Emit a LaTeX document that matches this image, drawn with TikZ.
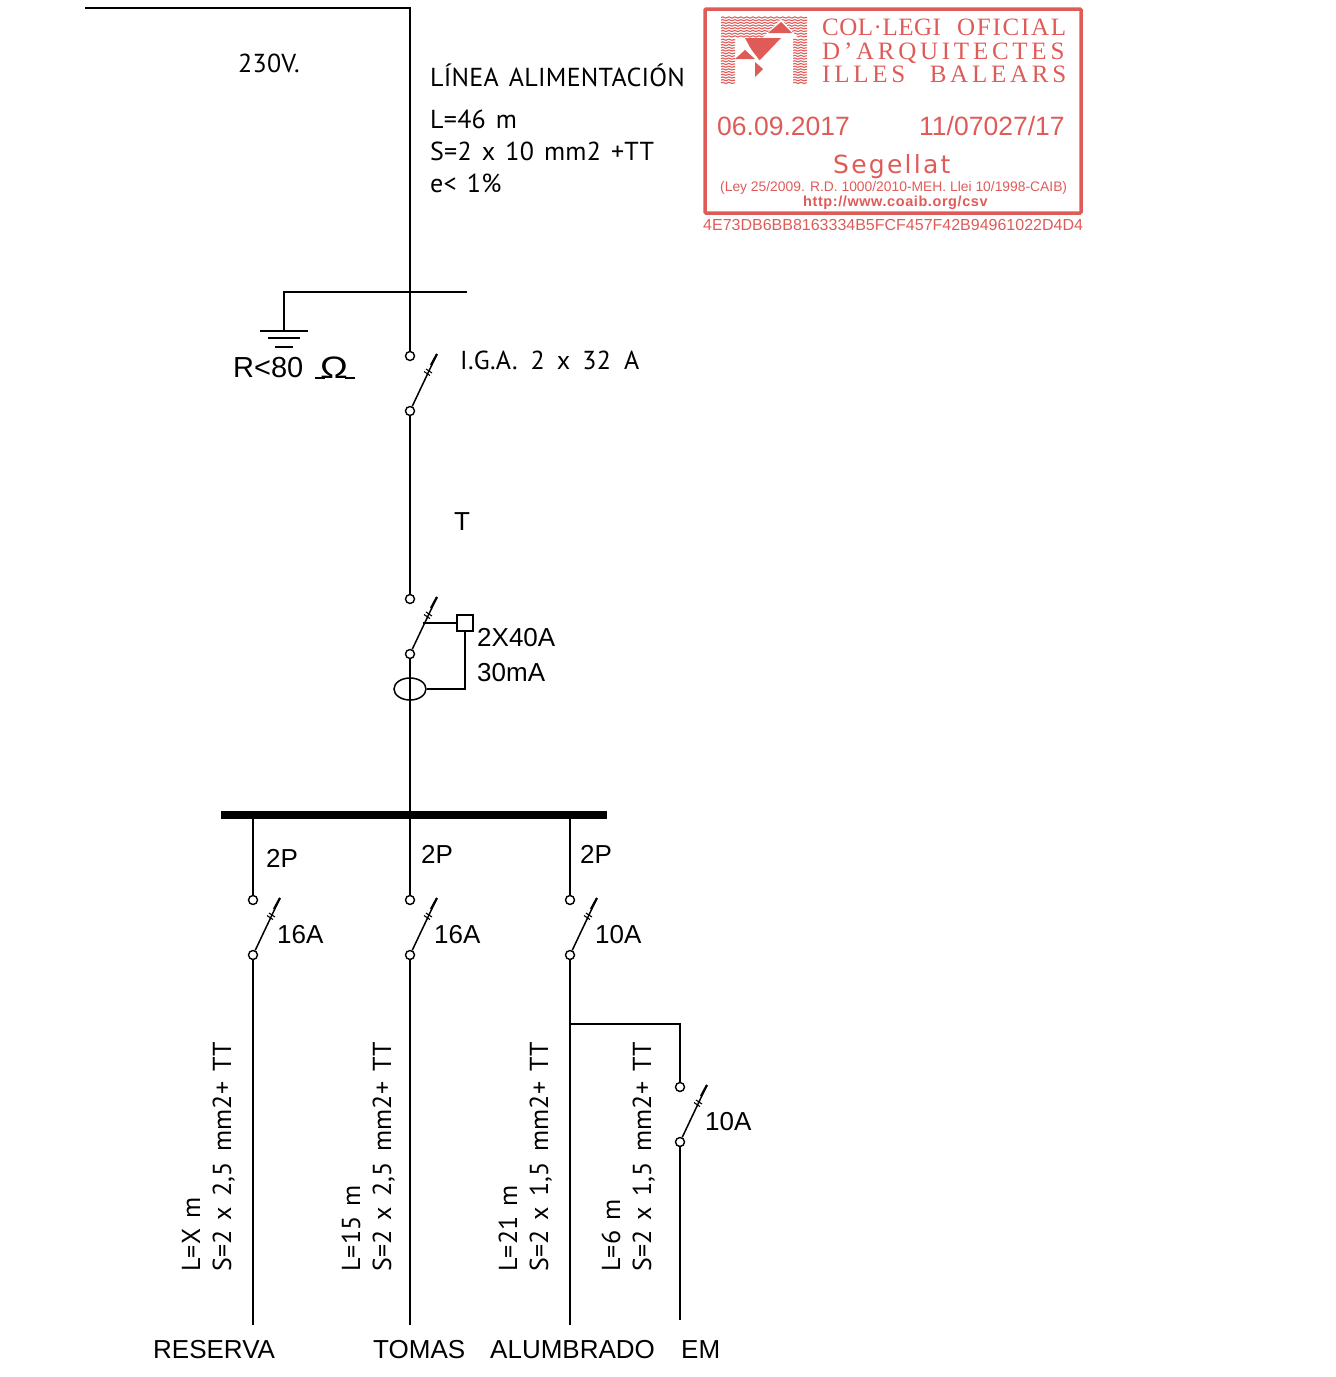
\documentclass[tikz,border=0pt]{standalone}
\usepackage{fontspec}
\usetikzlibrary{decorations.pathmorphing,shapes.geometric}
\setmainfont{Liberation Sans}
\newfontfamily\cadfont[LetterSpace=1,WordSpace=1.4]{PT Sans}
\newfontfamily\stampserif[LetterSpace=15]{Liberation Serif}
\newfontfamily\stampmid[LetterSpace=7]{Liberation Serif}
\newfontfamily\stamptight[LetterSpace=2]{Liberation Serif}
\newfontfamily\stampsans[LetterSpace=9]{DejaVu Sans}
\newfontfamily\stamplink[LetterSpace=4]{Liberation Sans}
\definecolor{stampred}{HTML}{DF5B58}
\tikzset{
	wire/.style={line width=1.5pt},
	term/.style={circle,draw,line width=1.4pt,fill=white,inner sep=0pt,minimum size=9pt},
	lbl/.style={anchor=base west,inner sep=0pt,yshift=1pt,font=\fontsize{26}{28}\selectfont},
	cad/.style={anchor=base west,inner sep=0pt,font=\cadfont\fontsize{26}{28}\selectfont},
	cadup/.style={cad,rotate=90},
	stamp/.style={anchor=base west,inner sep=0pt,text=stampred},
	logoline/.style={stampred,line width=1.1pt,decorate,decoration={snake,segment length=6pt,amplitude=.6pt}}
}
\newcommand{\breaker}[3]{
	\node[term] (#1top) at (#2,#3) {};
	\node[term] (#1bot) at (#2,#3+55) {};
	\coordinate (#1tip) at (#2+27,#3-2);
	\draw[wire] (#1bot) -- (#1tip);
	\draw[line width=2.2pt] (#2+21,#3+9) -- (#1tip);
	\draw[line width=1.1pt] (#2+14,#3+15.5) -- (#2+20,#3+19.5);
	\draw[line width=1.1pt] (#2+16,#3+13) -- (#2+22,#3+17);
}
\begin{document}
\begin{tikzpicture}[x=1pt,y=-1pt]
	\useasboundingbox (0,0) rectangle (1336,1377);
	\breaker{iga}{410}{356}
	\breaker{dif}{410}{599}
	\breaker{res}{253}{900}
	\breaker{tom}{410}{900}
	\breaker{alu}{570}{900}
	\breaker{eme}{680}{1087}
	\node[fill=black,inner sep=0pt,minimum width=386pt,minimum height=8pt] (bus) at (414,815) {};
	\coordinate (feed) at (85,8);
	\coordinate (feedcorner) at (410,8);
	\coordinate (earthend) at (467,292);
	\coordinate (earthcorner) at (284,292);
	\coordinate (earth) at (284,331);
	\coordinate (busres) at (253,815);
	\coordinate (busdif) at (410,815);
	\coordinate (busalu) at (570,815);
	\coordinate (branch) at (570,1024);
	\coordinate (branchcorner) at (680,1024);
	\coordinate (resend) at (253,1325);
	\coordinate (tomend) at (410,1325);
	\coordinate (aluend) at (570,1325);
	\coordinate (emeend) at (680,1320);
	\draw[wire] (feed) -- (feedcorner) -- (igatop);
	\draw[wire] (earthend) -- (earthcorner) -- (earth);
	\draw[wire] (igabot) -- (diftop);
	\draw[wire] (difbot) -- (busdif);
	\draw[wire] (busres) -- (restop);
	\draw[wire] (busdif) -- (tomtop);
	\draw[wire] (busalu) -- (alutop);
	\draw[wire] (resbot) -- (resend);
	\draw[wire] (tombot) -- (tomend);
	\draw[wire] (alubot) -- (aluend);
	\draw[wire] (branch) -- (branchcorner) -- (emetop);
	\draw[wire] (emebot) -- (emeend);
	\draw[wire] (260,331) -- (308,331);
	\draw[wire] (268,338) -- (300,338);
	\draw[wire] (275,347) -- (293,347);
	\node[draw,line width=1.5pt,inner sep=0pt,minimum size=16pt] (testbox) at (465,623) {};
	\node[ellipse,draw,line width=1.5pt,inner sep=0pt,minimum width=32pt,minimum height=22pt] (toroid) at (410,689) {};
	\coordinate (bladeout) at (423,623);
	\coordinate (trip) at (465,689);
	\draw[wire] (bladeout) -- (testbox);
	\draw[wire] (testbox) -- (trip) -- (toroid);
	\node[cad] (volt) at (238,72) {230V.};
	\node[cad] (linea) at (430,86) {LÍNEA ALIMENTACIÓN};
	\node[cad] (linel) at (430,128) {L=46 m};
	\node[cad] (lines) at (430,160) {S=2 x 10 mm2 +TT};
	\node[cad] (linee) at (430,192) {e< 1\%};
	\node[cad] (igalbl) at (460,369) {I.G.A.\hspace{3pt} 2\hspace{2pt} x\hspace{2pt} 32\hspace{3pt} A};
	\node[lbl,font=\fontsize{29}{30}\selectfont] (rlbl) at (233,378) {R<80};
	\node[lbl,font=\fontsize{31}{31}\selectfont] (ohm) at (320,379) {\scalebox{1.2}[1]{Ω}};
	\draw[wire] (315,378) -- (325,378);
	\draw[wire] (345,378) -- (355,378);
	\node[lbl] (tlbl) at (454,531) {T};
	\node[lbl] (diflbl) at (477,647) {2X40A};
	\node[lbl] (maxlbl) at (477,682) {30mA};
	\node[lbl] (pres) at (266,868) {2P};
	\node[lbl] (ptom) at (421,864) {2P};
	\node[lbl] (palu) at (580,864) {2P};
	\node[lbl] (ares) at (277,944) {16A};
	\node[lbl] (atom) at (434,944) {16A};
	\node[lbl] (aalu) at (595,944) {10A};
	\node[lbl] (aeme) at (705,1131) {10A};
	\node[lbl] (nres) at (153,1359) {RESERVA};
	\node[lbl] (ntom) at (373,1359) {TOMAS};
	\node[lbl] (nalu) at (490,1359) {ALUMBRADO};
	\node[lbl] (neme) at (681,1359) {EM};
	\node[cadup] (lres) at (200,1272) {L=X m};
	\node[cadup] (sres) at (231,1272) {S=2 x 2,5 mm2+ TT};
	\node[cadup] (ltom) at (360,1272) {L=15 m};
	\node[cadup] (stom) at (391,1272) {S=2 x 2,5 mm2+ TT};
	\node[cadup] (lalu) at (517,1272) {L=21 m};
	\node[cadup] (salu) at (548,1272) {S=2 x 1,5 mm2+ TT};
	\node[cadup] (leme) at (620,1272) {L=6 m};
	\node[cadup] (seme) at (651,1272) {S=2 x 1,5 mm2+ TT};
	\draw[stampred,line width=3.5pt,rounded corners=1pt] (705,9) rectangle (1081,213);
	\foreach \y in {17.5,20.2,...,37} {
		\draw[logoline] (721,\y) -- (807,\y);
	}
	\foreach \y in {39.7,42.4,...,84} {
		\draw[logoline] (721,\y) -- (735,\y);
		\draw[logoline] (793,\y) -- (807,\y);
	}
	\fill[white] (736,38) -- (762,38) -- (781,19) -- (798,38) -- (793,38) -- (793,86) -- (736,86) -- cycle;
	\fill[stampred] (781,22) -- (792,33) -- (768,33) -- cycle;
	\fill[stampred] (745,38) -- (781,38) -- (758,62) -- cycle;
	\fill[white] (743,39) -- (760,61) -- (757,63) -- (741,43) -- cycle;
	\fill[stampred] (735,59) -- (745,50) -- (755,59) -- cycle;
	\fill[stampred] (755,62) -- (763,69) -- (755,77) -- cycle;
	\node[stamp,font=\fontsize{25}{26}\selectfont,text width=244pt] (col) at (822,35) {\makebox[244pt][s]{\stamptight COL·LEGI\hfill\stampmid OFICIAL}};
	\node[stamp,font=\stampserif\fontsize{25}{26}\selectfont,text width=244pt] (arq) at (822,59) {\makebox[244pt][s]{D’ARQUITECTES}};
	\node[stamp,font=\stampserif\fontsize{25}{26}\selectfont,text width=244pt] (ill) at (822,82) {\makebox[244pt][s]{ILLES\hfill BALEARS}};
	\node[stamp,font=\fontsize{26.5}{28}\selectfont] (date) at (717,135) {06.09.2017};
	\node[stamp,font=\fontsize{26.5}{28}\selectfont] (num) at (919,135) {11/07027/17};
	\node[stamp,font=\stampsans\fontsize{25}{26}\selectfont] (seg) at (833,173) {Segellat};
	\node[stamp,font=\fontsize{13.85}{15}\selectfont] (ley) at (720,191) {(Ley 25/2009. R.D. 1000/2010-MEH. Llei 10/1998-CAIB)};
	\node[stamp,font=\stamplink\bfseries\fontsize{14.5}{15}\selectfont] (http) at (803,206) {http://www.coaib.org/csv};
	\node[stamp,font=\fontsize{16}{17}\selectfont] (hash) at (703,230) {4E73DB6BB8163334B5FCF457F42B94961022D4D4};
\end{tikzpicture}
\end{document}
